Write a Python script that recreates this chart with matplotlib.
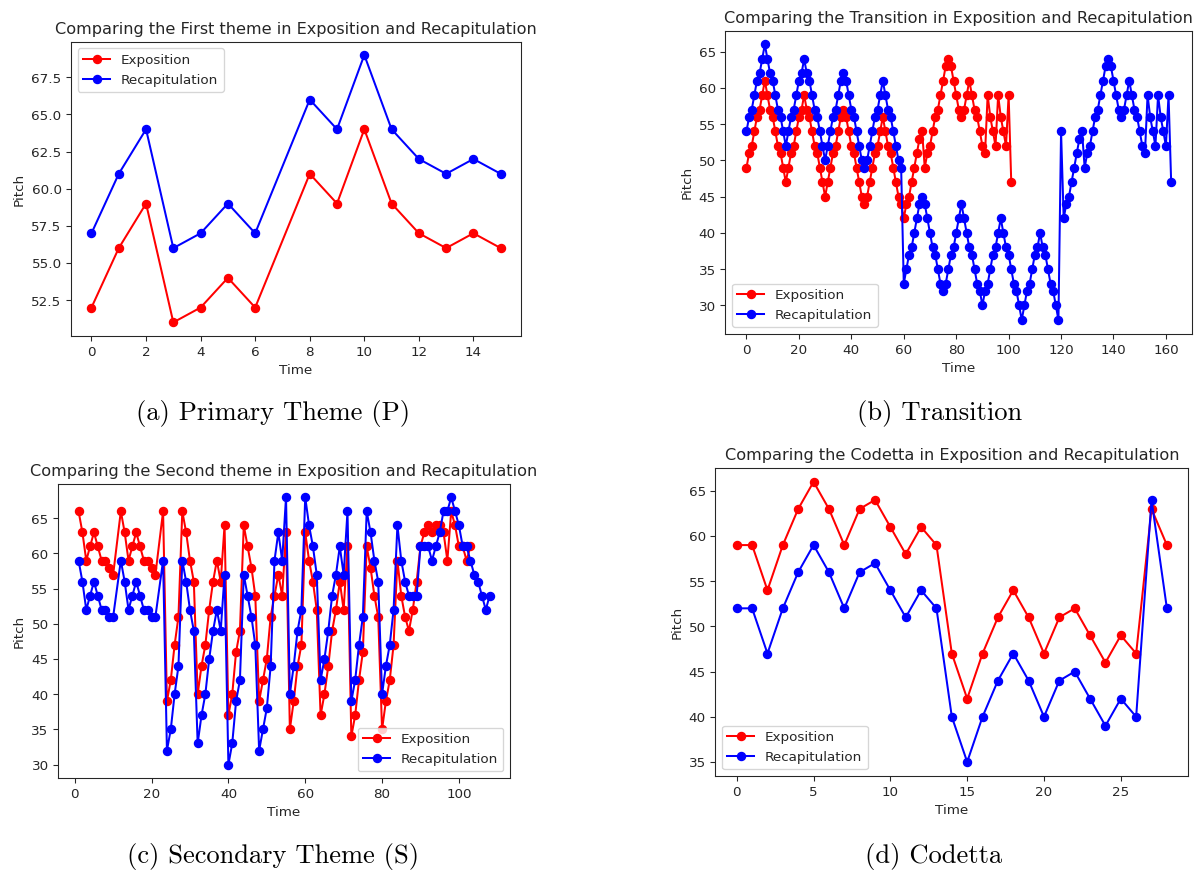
# comparing exposition and recapitulation pitch contours (4 panels)
import matplotlib
matplotlib.use('Agg')
import matplotlib.pyplot as plt

# %%
# (a) first theme
p_time = [0, 1, 2, 3, 4, 5, 6, 8, 9, 10, 11, 12, 13, 14, 15]
p_expo = [52, 56, 59, 51, 52, 54, 52, 61, 59, 64, 59, 57, 56, 57, 56]
p_reca = [57, 61, 64, 56, 57, 59, 57, 66, 64, 69, 64, 62, 61, 62, 61]

# (b) transition
t_time_expo = list(range(0, 102))
t_expo = [49, 51, 52, 54, 56, 57, 59, 61, 59, 57, 56, 54, 52, 51, 49, 47,
          49, 51, 52, 54, 56, 57, 59, 57, 56, 54, 52, 51, 49, 47, 45,
          47, 49, 51, 52, 54, 56, 57, 56, 54, 52, 51, 49, 47, 45, 44,
          45, 47, 49, 51, 52, 54, 56, 54, 52, 51, 49, 47, 45, 44, 42,
          44, 45, 47, 49, 51, 53, 54, 49, 51, 52, 54, 56, 57, 59, 61, 63, 64, 63,
          61, 59, 57, 56, 57, 59, 61, 59, 57, 56, 54, 52, 51,
          59, 56, 54, 52, 59, 56, 54, 52, 59, 47]
t_time_reca = list(range(0, 163))
t_reca = [54, 56, 57, 59, 61, 62, 64, 66, 64, 62, 61, 59, 57, 56, 54, 52,
          54, 56, 57, 59, 61, 62, 64, 62, 61, 59, 57, 56, 54, 52, 50,
          52, 54, 56, 57, 59, 61, 62, 61, 59, 57, 56, 54, 52, 50, 49,
          50, 52, 54, 56, 57, 59, 61, 59, 57, 56, 54, 52, 50, 49,
          33, 35, 37, 38, 40, 42, 44, 45, 44, 42, 40, 38, 37, 35, 33, 32,
          33, 35, 37, 38, 40, 42, 44, 42, 40, 38, 37, 35, 33, 32, 30,
          32, 33, 35, 37, 38, 40, 42, 40, 38, 37, 35, 33, 32, 30, 28,
          30, 32, 33, 35, 37, 38, 40, 38, 37, 35, 33, 32, 30, 28,
          54,
          42, 44, 45, 47, 49, 51, 53, 54, 49, 51, 52, 54, 56, 57, 59, 61, 63, 64, 63,
          61, 59, 57, 56, 57, 59, 61, 59, 57, 56, 54, 52, 51,
          59, 56, 54, 52, 59, 56, 54, 52, 59, 47]

# (c) second theme
s_time_expo = list(range(1, 11)) + list(range(12, 22)) + list(range(23, 104))
s_expo = [66, 63, 59, 61, 63, 61, 59, 59, 58, 57,
          66, 63, 59, 61, 63, 61, 59, 59, 58, 57,
          66, 39, 42, 47, 51, 66, 63, 59, 56, 40, 44, 47, 52, 56, 59, 56, 64,
          37, 40, 46, 49, 64, 61, 58, 54, 39, 42, 45, 51, 54, 57, 54, 63,
          35, 39, 44, 47, 63, 59, 56, 52, 37, 40, 44, 49, 52, 56, 52, 61,
          34, 37, 42, 46, 61, 58, 54, 51, 35, 39, 42, 47, 59, 54, 51, 49,
          52, 56, 61, 63, 64, 63, 64, 64, 63, 59, 66, 64, 61, 61, 59, 61]
s_time_reca = list(range(1, 11)) + list(range(12, 22)) + list(range(23, 109))
s_reca = [59, 56, 52, 54, 56, 54, 52, 52, 51, 51,
          59, 56, 52, 54, 56, 54, 52, 52, 51, 51,
          59, 32, 35, 40, 44, 59, 56, 52, 49, 33, 37, 40, 45, 49, 52, 49, 57,
          30, 33, 39, 42, 57, 54, 51, 47, 32, 35, 38, 44, 59, 63, 59, 68,
          40, 44, 49, 52, 68, 64, 61, 57, 42, 45, 49, 54, 57, 61, 57, 66,
          39, 42, 47, 51, 66, 63, 59, 56, 40, 44, 47, 52, 64, 59, 56, 54,
          54, 54, 61, 61, 61, 59, 61, 63, 66, 66, 68, 66, 64, 61, 61, 59,
          57, 56, 54, 52, 54]

# (d) codetta
c_time = list(range(0, 29))
c_expo = [59, 59, 54, 59, 63, 66, 63, 59, 63, 64, 61, 58, 61, 59, 47,
          42, 47, 51, 54, 51, 47, 51, 52, 49, 46, 49, 47, 63, 59]
c_reca = [52, 52, 47, 52, 56, 59, 56, 52, 56, 57, 54, 51, 54, 52, 40,
          35, 40, 44, 47, 44, 40, 44, 45, 42, 39, 42, 40, 64, 52]

# %%
W, H = 1204, 872
DPI = 97
plt.rcParams['text.color'] = '#262626'
plt.rcParams['axes.labelcolor'] = '#262626'
plt.rcParams['xtick.color'] = '#262626'
plt.rcParams['ytick.color'] = '#262626'
plt.rcParams['axes.edgecolor'] = '#262626'

fig = plt.figure(figsize=((W + 0.4) / DPI, (H + 0.4) / DPI), dpi=DPI)


def box(l, t, r, b):
    # pixel box -> figure fraction
    return [l / W, 1 - b / H, (r - l) / W, (b - t) / H]


panels = [
    (box(71, 42, 521, 336), 'First theme', p_time, p_expo, p_time, p_reca, 'upper left'),
    (box(725, 31, 1192, 334), 'Transition', t_time_expo, t_expo, t_time_reca, t_reca, 'lower left'),
    (box(58, 484, 510, 778), 'Second theme', s_time_expo, s_expo, s_time_reca, s_reca, 'lower right'),
    (box(715, 468, 1188, 776), 'Codetta', c_time, c_expo, c_time, c_reca, 'lower left'),
]

for rect, name, xe, ye, xr, yr, loc in panels:
    ax = fig.add_axes(rect)
    ax.plot(xe, ye, color='red', marker='o', label='Exposition')
    ax.plot(xr, yr, color='blue', marker='o', label='Recapitulation')
    ax.set_title('Comparing the ' + name + ' in Exposition and Recapitulation')
    ax.set_xlabel('Time')
    ax.set_ylabel('Pitch')
    ax.legend(loc=loc)

# subfigure captions
captions = ['(a) Primary Theme (P)', '(b) Transition', '(c) Secondary Theme (S)', '(d) Codetta']
cap_xy = [(273, 413), (939, 413), (273, 856), (933, 856)]
for txt, (cx, cy) in zip(captions, cap_xy):
    fig.text(cx / W, 1 - cy / H, txt, family=['cmr10', 'DejaVu Serif'], fontsize=19.7,
             ha='center', va='center', color='black')

fig.savefig('out.png', dpi=DPI)
